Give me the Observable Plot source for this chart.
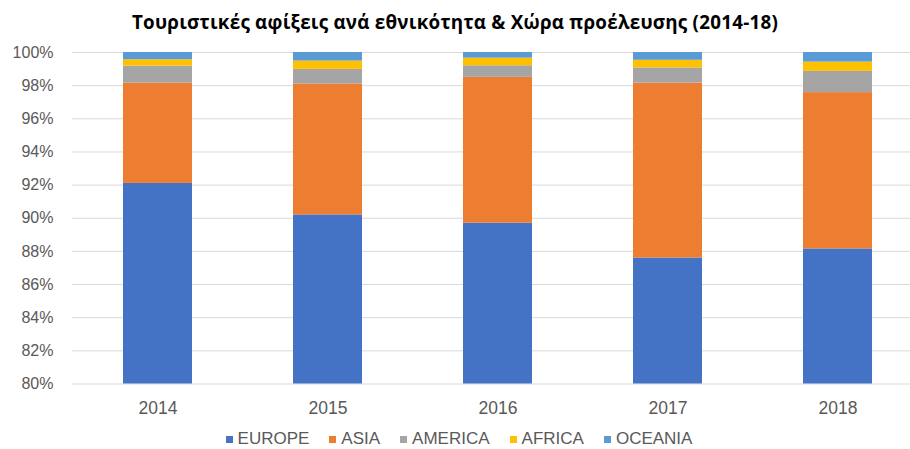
<!DOCTYPE html>
<html>
<head>
<meta charset="utf-8">
<script src="https://cdn.jsdelivr.net/npm/d3@7"></script>
<script src="https://cdn.jsdelivr.net/npm/@observablehq/plot@0.6"></script>
<style>
  html, body { margin: 0; padding: 0; background: #fff; overflow: hidden; }
  #wrap { position: relative; width: 910px; height: 449px; overflow: hidden; }
  #title { position: absolute; left: 0; top: 0; width: 910px; height: 44px; line-height: 44px;
           text-align: center; font-family: "Open Sans", "Noto Sans", sans-serif; font-weight: bold;
           font-size: 18.8px; letter-spacing: 0.25px; color: #000; }
  #chart { position: absolute; left: 0; top: 40px; }
  #chart svg { max-width: none !important; }
  #legend { position: absolute; left: 8px; top: 428px; width: 902px; height: 22px; line-height: 22px;
            display: flex; justify-content: center; align-items: center;
            font-family: "Liberation Sans", Arial, sans-serif; font-size: 17px; color: #595959; }
  .item { display: flex; align-items: center; margin: 0 10px; }
  .sw { width: 7px; height: 7px; margin-right: 5px; }
</style>
</head>
<body>
<div id="wrap">
  <div id="title">Τουριστικές αφίξεις ανά εθνικότητα &amp; Χώρα προέλευσης (2014-18)</div>
  <div id="chart"></div>
  <div id="legend"></div>
</div>
<script>
const years = ["2014", "2015", "2016", "2017", "2018"];
const regions = ["EUROPE", "ASIA", "AMERICA", "AFRICA", "OCEANIA"];
const colors = ["#4472C4", "#ED7D31", "#A5A5A5", "#FFC000", "#5B9BD5"];
const europe  = [92.10, 90.20, 89.70, 87.60, 88.15];
const asia    = [6.05, 7.90, 8.80, 10.55, 9.43];
const america = [1.03, 0.88, 0.70, 0.92, 1.28];
const africa  = [0.38, 0.50, 0.46, 0.46, 0.56];
const oceania = [0.44, 0.52, 0.34, 0.47, 0.58];
const yTicks = [0.80, 0.82, 0.84, 0.86, 0.88, 0.90, 0.92, 0.94, 0.96, 0.98, 1.00];

const series = [europe, asia, america, africa, oceania];
const table = [];
years.forEach((yr, i) => {
  regions.forEach((r, j) => table.push({year: yr, region: r, value: series[j][i]}));
});

const chart = Plot.plot({
  width: 923,
  height: 385,
  marginLeft: 72,
  marginRight: 0,
  marginTop: 12,
  marginBottom: 41.5,
  style: {fontFamily: "'Liberation Sans', Arial, sans-serif", color: "#595959", background: "transparent", overflow: "visible", maxWidth: "none"},
  x: {domain: years, paddingInner: 0.595, paddingOuter: 0.2975, label: null, axis: null},
  y: {domain: [0.8, 1], label: null, axis: null},
  color: {domain: regions, range: colors},
  marks: [
    Plot.gridY(yTicks, {stroke: "#d9d9d9", strokeOpacity: 1, strokeWidth: 1}),
    Plot.barY(table, {x: "year", y: "value", fill: "region", offset: "normalize", clip: true}),
    Plot.axisY(yTicks, {tickSize: 0, tickPadding: 19, tickFormat: d3.format(".0%"), fontSize: 16, fill: "#595959", label: null}),
    Plot.axisX({tickSize: 0, tickPadding: 18, fontSize: 17.5, fill: "#595959", label: null})
  ]
});
document.getElementById("chart").appendChild(chart);

const legend = document.getElementById("legend");
regions.forEach((r, j) => {
  const it = document.createElement("div");
  it.className = "item";
  const sw = document.createElement("div");
  sw.className = "sw";
  sw.style.background = colors[j];
  const tx = document.createElement("span");
  tx.textContent = r;
  it.appendChild(sw);
  it.appendChild(tx);
  legend.appendChild(it);
});
</script>
</body>
</html>
